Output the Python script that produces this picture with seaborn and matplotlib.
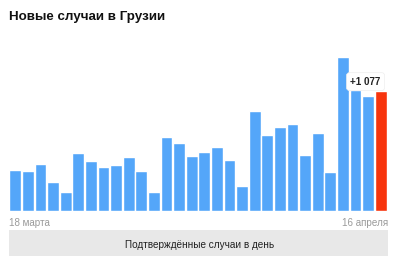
import matplotlib
matplotlib.use("Agg")
import matplotlib.pyplot as plt
import seaborn as sns
import pandas as pd
from matplotlib.patches import Rectangle

title = "Новые случаи в Грузии"
caption = "Подтверждённые случаи в день"
first_label = "18 марта"
last_label = "16 апреля"
day = list(range(1, 31))
cases = [372, 359, 422, 260, 171, 525, 449, 399, 417, 489,
         363, 171, 669, 615, 494, 530, 577, 464, 224, 897,
         682, 760, 781, 503, 706, 356, 1382, 1086, 1032, 1077]
last_text = "+1 077"

blue = "#54a6f9"
red = "#f7340d"

sns.set_theme(style="white")
plt.rcParams['font.family'] = ['Liberation Sans', 'DejaVu Sans']

df = pd.DataFrame({"day": day, "cases": cases})
df["kind"] = ["last" if i == len(day) - 1 else "normal" for i in range(len(day))]

fig = plt.figure(figsize=(4.0, 2.56), dpi=100)
ax = fig.add_axes([0.0225, 0.174, 0.945, 0.670])
sns.barplot(data=df, x="day", y="cases", hue="kind",
            palette={"normal": blue, "last": red}, width=0.93,
            legend=False, ax=ax, saturation=1)
ax.set_ylim(0, 1539)
ax.set_xlim(-0.5, len(day) - 0.5)
ax.set_xticks([])
ax.set_yticks([])
ax.set_xlabel("")
ax.set_ylabel("")
for s in ax.spines.values():
    s.set_visible(False)

ax.text(0.0, -0.04, first_label, transform=ax.transAxes, ha="left", va="top",
        fontsize=7.1, color="#9a9a9a")
ax.text(1.002, -0.04, last_label, transform=ax.transAxes, ha="right", va="top",
        fontsize=7.1, color="#9a9a9a")

ax.text(len(day) - 2.2, 1165, last_text, ha="center", va="center",
        fontsize=7.1, fontweight="bold", color="#222222",
        bbox=dict(boxstyle="round,pad=0.4,rounding_size=0.3", fc="white",
                  ec="#eeeeee", lw=0.5))

fig.text(0.0225, 0.935, title, ha="left", va="center", fontsize=9.6,
         fontweight="bold", color="#111111")

fig.patches.append(Rectangle((0.0225, 0.0), 0.947, 0.101, transform=fig.transFigure,
                             facecolor="#e8e8e8", edgecolor="none", zorder=0))
fig.text(0.5, 0.043, caption, ha="center", va="center", fontsize=7.2, color="#222222")

fig.savefig("out.png", dpi=100)
